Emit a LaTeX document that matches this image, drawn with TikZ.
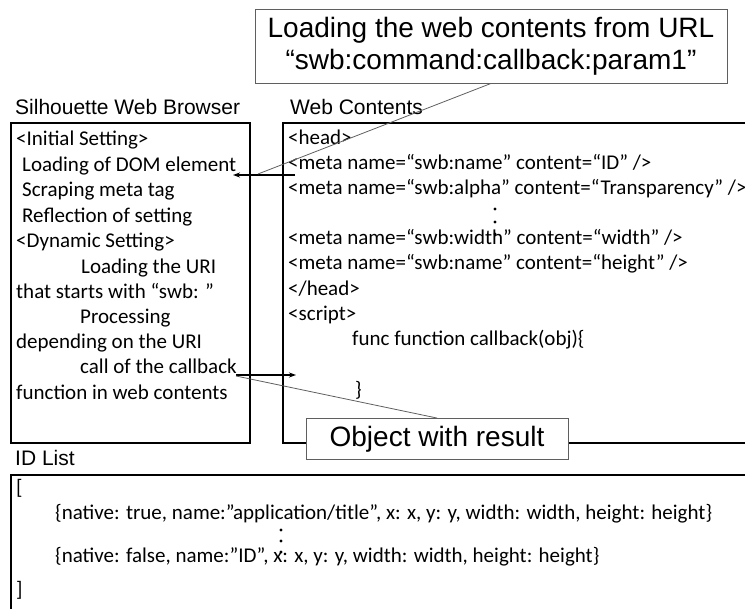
\documentclass[tikz,border=0pt]{standalone}
\usepackage{fontspec}
\setmainfont{Carlito}
\newfontfamily\headfont{Liberation Sans}
\usepackage{tikz}
\usetikzlibrary{
    positioning,
    arrows.meta,
    calc
}
\definecolor{boxGray}{RGB}{95, 95, 95}

\begin{document}
\begin{tikzpicture}[x=1pt, y=-1pt, >={Stealth[length=7pt, width=5pt]},
    every node/.style={inner sep=0pt},
    code/.style={anchor=base west, font=\fontsize{21}{25}\selectfont},
    heading/.style={anchor=base west, font=\headfont\fontsize{21}{25}\selectfont},
    frame/.style={draw, line width=1.4pt},
    callout/.style={draw=boxGray, line width=0.9pt, fill=white, align=center,
        font=\headfont\fontsize{28}{32}\selectfont},
    tail/.style={draw=boxGray, line width=0.8pt},
    pointer/.style={->, line width=1.3pt}]

    \useasboundingbox (0,0) rectangle (745,609);
    \clip (0,0) rectangle (745,609);

    % the three panels
    \draw[frame] (11,123) rectangle (250,443);
    \draw[frame] (283,123) rectangle (770,443);
    \draw[frame] (11,475) rectangle (770,630);

    \node[heading] (browserTitle) at (15,115) {Silhouette Web Browser};
    \node[heading] (contentsTitle) at (290,115) {Web Contents};
    \node[heading] (listTitle) at (15,466) {ID List};

    % browser side
    \node[code] (initSet) at (16,146) {<Initial Setting>};
    \node[code] (loadDom) at (22,171.5) {Loading of DOM element};
    \node[code] (scrape) at (22,197) {Scraping meta tag};
    \node[code] (reflect) at (22,222.5) {Reflection of setting};
    \node[code] (dynSet) at (16,248) {<Dynamic Setting>};
    \node[code] (loadUri) at (81,273.5) {Loading the URI};
    \node[code] (startsWith) at (16,298.5) {that starts with “swb: ”};
    \node[code] (process) at (80,323.5) {Processing};
    \node[code] (depend) at (16,348.5) {depending on the URI};
    \node[code] (callCb) at (80,374) {call of the callback};
    \node[code] (inContents) at (16,399.5) {function in web contents};

    % web contents side
    \node[code] (headOpen) at (288,145) {<head>};
    \node[code] (metaId) at (288,170) {<meta name=“swb:name” content=“ID” />};
    \node[code] (metaAlpha) at (288,195) {<meta name=“swb:alpha” content=“Transparency” />};
    \node[code] (metaWidth) at (288,245) {<meta name=“swb:width” content=“width” />};
    \node[code] (metaHeight) at (288,270) {<meta name=“swb:name” content=“height” />};
    \node[code] (headClose) at (288,296) {</head>};
    \node[code] (scriptOpen) at (288,321) {<script>};
    \node[code] (funcCb) at (352,346) {func function callback(obj)\{};
    \node[code] (funcEnd) at (355,397) {\}};
    \foreach \y in {209,222,234}
        \fill (495,\y) circle (1.7);

    % id list
    \node[code] (listOpen) at (16,495) {[};
    \node[code] (entryA) at (55,520) {\{native: true, name:”application/title”, x: x, y: y, width: width, height: height\}};
    \node[code] (entryB) at (55,562) {\{native: false, name:”ID”, x: x, y: y, width: width, height: height\}};
    \node[code] (listClose) at (16,597) {]};
    \foreach \y in {530,541,552}
        \fill (281,\y) circle (1.7);

    % pointers
    \coordinate (domFrom) at (295,175);
    \coordinate (domTo) at (233,175);
    \coordinate (cbFrom) at (236,375);
    \coordinate (cbTo) at (296,375);
    \draw[pointer] (domFrom) -- (domTo);
    \draw[pointer] (cbFrom) -- (cbTo);

    % callouts
    \node[callout, minimum width=472pt, minimum height=74pt] (loadUrl) at (491,46)
        {Loading the web contents from URL\\“swb:command:callback:param1”};
    \node[callout, minimum width=262pt, minimum height=41pt] (result) at (437,439)
        {Object with result};
    \coordinate (urlTip) at (258,174);
    \coordinate (resultTip) at (236,376);
    \draw[tail] (loadUrl.south) -- (urlTip);
    \draw[tail] (result.north) -- (resultTip);
\end{tikzpicture}
\end{document}
